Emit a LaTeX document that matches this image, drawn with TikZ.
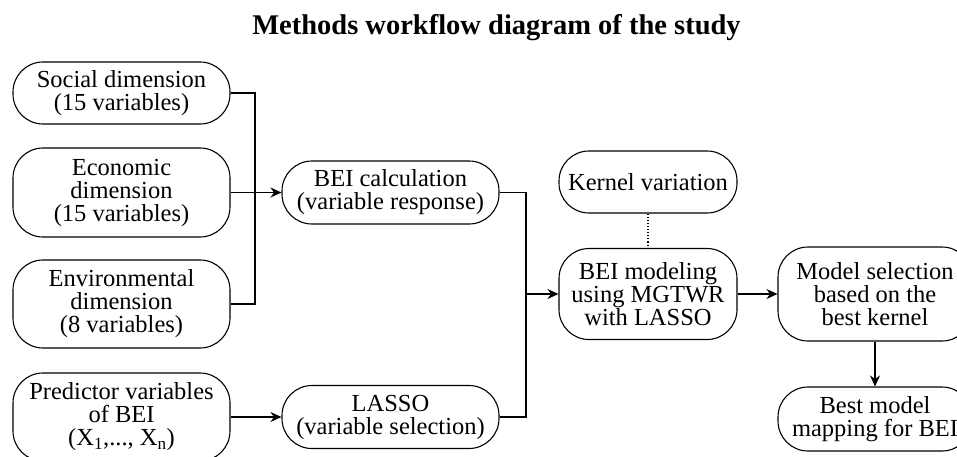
\documentclass[tikz,border=0pt]{standalone}
\usepackage{fontspec}
\setmainfont{Liberation Serif}
\usetikzlibrary{arrows.meta,positioning}

\begin{document}
\begin{tikzpicture}[x=1pt, y=1pt,
  box/.style={draw, line width=1.1pt, rounded corners=30pt, align=center, inner sep=1pt,
    font=\fontsize{24.5}{23}\selectfont},
  link/.style={line width=1.1pt},
  arr/.style={link, -{Stealth[length=11pt, width=10pt]}}]
 \clip (0,0) rectangle (957,-456);

 % Title
 \node[anchor=base, font=\fontsize{28.5}{28}\selectfont\bfseries] (title) at (496.5,-34) {Methods workflow diagram of the study};

 % Left column - inputs
 \node[box, minimum width=217pt, minimum height=62pt] (social) at (121.5,-93) {Social dimension\\(15 variables)};
 \node[box, minimum width=217pt, minimum height=89pt] (econ) at (121.5,-192.5) {Economic\\dimension\\(15 variables)};
 \node[box, minimum width=217pt, minimum height=88pt] (env) at (121.5,-304) {Environmental\\dimension\\(8 variables)};
 \node[box, minimum width=217pt, minimum height=88pt] (pred) at (121.5,-417) {Predictor variables\\of BEI\\(X\textsubscript{1},..., X\textsubscript{n})};

 % Middle column
 \node[box, minimum width=217pt, minimum height=63pt] (beicalc) at (390.5,-192.5) {BEI calculation\\(variable response)};
 \node[box, minimum width=217pt, minimum height=63pt] (lasso) at (390.5,-417) {LASSO\\(variable selection)};

 % Modeling
 \node[box, minimum width=178pt, minimum height=62pt] (kernel) at (648,-182) {Kernel variation};
 \node[box, minimum width=178pt, minimum height=91pt] (mgtwr) at (648,-294) {BEI modeling\\using MGTWR\\with LASSO};
 \node[box, minimum width=194pt, minimum height=94pt] (modelsel) at (875,-294) {Model selection\\based on the\\best kernel};
 \node[box, minimum width=194pt, minimum height=64pt] (best) at (875,-419) {Best model\\mapping for BEI};

 % Connectors
 \coordinate (join1) at (255,-192.5);
 \coordinate (join2) at (526,-294);
 \draw[link] (social.east) -| (join1);
 \draw[link] (env.east) -| (join1);
 \draw[arr] (econ.east) -- (beicalc.west);
 \draw[arr] (pred.east) -- (lasso.west);
 \draw[link] (beicalc.east) -| (join2);
 \draw[link] (lasso.east) -| (join2);
 \draw[arr] (join2) -- (mgtwr.west);
 \draw[link, dotted] (kernel.south) -- (mgtwr.north);
 \draw[arr] (mgtwr.east) -- (modelsel.west);
 \draw[arr] (modelsel.south) -- (best.north);
\end{tikzpicture}
\end{document}
